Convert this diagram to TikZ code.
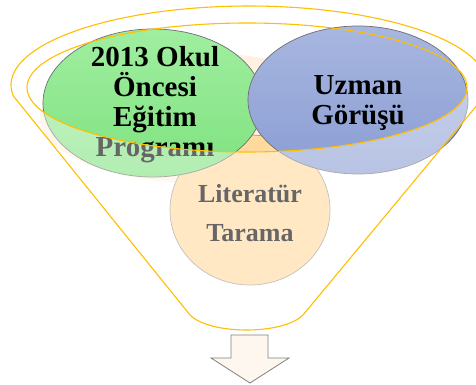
\documentclass[tikz,border=0pt]{standalone}
\usepackage{fontspec}
\setmainfont{Liberation Serif}
\usetikzlibrary{shapes.geometric}
\definecolor{rimgold}{HTML}{FFBF00}
\definecolor{greentop}{HTML}{A0EEA0}
\definecolor{greenbot}{HTML}{7FE27F}
\definecolor{bluetop}{HTML}{A8B7E0}
\definecolor{bluebot}{HTML}{8A9DD3}
\definecolor{peach}{HTML}{FFDA9C}
\definecolor{peachglow}{HTML}{FFF1E1}
\definecolor{arrowfill}{HTML}{FEF7EF}
\definecolor{edgegray}{HTML}{6E6E6E}
\tikzset{
  bubble/.style={ellipse, inner sep=0pt, draw=edgegray, line width=0.7pt},
  bigtext/.style={align=center, inner sep=0pt, font=\bfseries\fontsize{29}{30}\selectfont},
  midtext/.style={align=center, inner sep=0pt, font=\bfseries\fontsize{26}{39}\selectfont},
  rimline/.style={draw=rimgold, line width=1.1pt},
}
\begin{document}
\begin{tikzpicture}[x=1pt,y=-1pt]
\useasboundingbox (0,0) rectangle (476,385);

% soft glow behind the bubbles
\fill[peachglow] (200,118) ellipse [x radius=160, y radius=65];

% the three bubbles
\node[bubble, draw=gray!80, fill=peach, minimum width=160pt, minimum height=150pt] (lit) at (250,210) {};
\node[midtext] (littext) at (250,213) {Literatür\\Tarama};
\node[bubble, top color=greentop, bottom color=greenbot, minimum width=220pt, minimum height=148pt] (prog) at (153,103) {};
\node[bigtext] (progtext) at (155,105) {2013 Okul\\Öncesi\\Eğitim\\Programı};
\node[bubble, top color=bluetop, bottom color=bluebot, minimum width=220pt, minimum height=148pt] (uzman) at (358,100) {};
\node[bigtext] (uzmantext) at (358,103) {Uzman\\Görüşü};

% translucent body of the funnel (below the inner rim)
\fill[white, fill opacity=0.4]
  (13.3,96) -- (190,315) .. controls (210,335) and (283,335) .. (303,315)
  -- (484.7,96) -- (467,87.5)
  -- plot[domain=0:180, samples=80] ({247+220*cos(\x)},{87.5+64.5*sin(\x)})
  -- cycle;

% funnel outline: outer rim, sides and bottom
\draw[rimline, line join=round]
  plot[domain=8:-188, samples=120] ({249+238*cos(\x)},{85+79*sin(\x)})
  -- (190,315) .. controls (210,335) and (283,335) .. (303,315) -- cycle;
% inner rim
\draw[rimline] (247,87.5) ellipse [x radius=220, y radius=64.5];

% output arrow
\draw[fill=arrowfill, draw=gray, line width=0.8pt, line join=miter]
  (231,335) -- (268,335) -- (268,358) -- (289,358) -- (250,383)
  -- (211,358) -- (231,358) -- cycle;
\end{tikzpicture}
\end{document}
